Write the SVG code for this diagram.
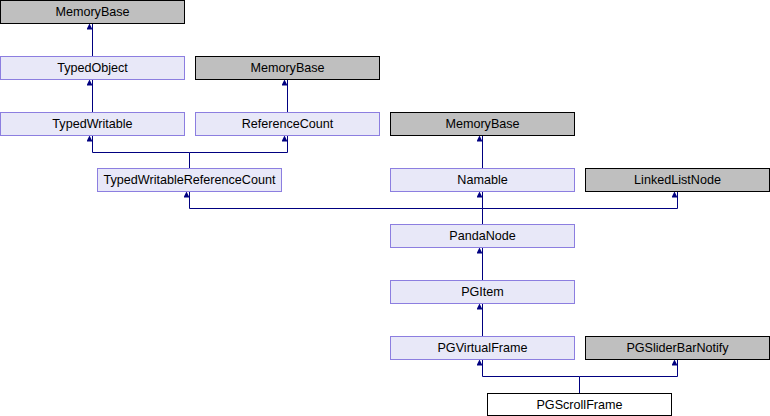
<svg xmlns="http://www.w3.org/2000/svg" width="770" height="416" viewBox="0 0 770 416">
<style>
.n rect{fill:#e8e8f8;stroke:#8c7ee0;stroke-width:1}
.g rect{fill:#bfbfbf;stroke:#000;stroke-width:1}
.w rect{fill:#fff;stroke:#000;stroke-width:1}
text{font-family:"Liberation Sans",Arial,sans-serif;font-size:12.6px;text-anchor:middle;fill:#000}
#edges path{fill:none;stroke:#000080;stroke-width:1}
</style>
<defs>
<marker id="ah" markerWidth="6" markerHeight="7" refX="3" refY="0" orient="0" markerUnits="userSpaceOnUse" viewBox="-3 0 6 7">
<path d="M0,0 L3,6 L-3,6 Z" fill="#000080"/>
</marker>
</defs>
<rect width="770" height="416" fill="#fff"/>
<g id="edges">
<path d="M92.5,56 V23.5" marker-end="url(#ah)"/>
<path d="M92.5,112 V79.5" marker-end="url(#ah)"/>
<path d="M287.5,112 V79.5" marker-end="url(#ah)"/>
<path d="M189.5,168 V152.5 H92.5 V135.5" marker-end="url(#ah)"/>
<path d="M189.5,152.5 H287.5 V135.5" marker-end="url(#ah)"/>
<path d="M482.5,168 V135.5" marker-end="url(#ah)"/>
<path d="M482.5,224 V208.5 H189.5 V191.5" marker-end="url(#ah)"/>
<path d="M482.5,208.5 V191.5" marker-end="url(#ah)"/>
<path d="M482.5,208.5 H677.5 V191.5" marker-end="url(#ah)"/>
<path d="M482.5,280 V247.5" marker-end="url(#ah)"/>
<path d="M482.5,336 V303.5" marker-end="url(#ah)"/>
<path d="M579.5,393 V376.5 H482.5 V359.5" marker-end="url(#ah)"/>
<path d="M579.5,376.5 H677.5 V359.5" marker-end="url(#ah)"/>
</g>
<g id="MemoryBase1" class="g"><rect x="0.5" y="0.5" width="184" height="23"/><text x="92.5" y="16">MemoryBase</text></g>
<g id="TypedObject" class="n"><rect x="0.5" y="56.5" width="184" height="23"/><text x="92.5" y="72">TypedObject</text></g>
<g id="MemoryBase2" class="g"><rect x="195.5" y="56.5" width="184" height="23"/><text x="287.5" y="72">MemoryBase</text></g>
<g id="TypedWritable" class="n"><rect x="0.5" y="112.5" width="184" height="23"/><text x="92.5" y="128">TypedWritable</text></g>
<g id="ReferenceCount" class="n"><rect x="195.5" y="112.5" width="184" height="23"/><text x="287.5" y="128">ReferenceCount</text></g>
<g id="MemoryBase3" class="g"><rect x="390.5" y="112.5" width="184" height="23"/><text x="482.5" y="128">MemoryBase</text></g>
<g id="TypedWritableReferenceCount" class="n"><rect x="97.5" y="168.5" width="184" height="23"/><text x="189.5" y="184">TypedWritableReferenceCount</text></g>
<g id="Namable" class="n"><rect x="390.5" y="168.5" width="184" height="23"/><text x="482.5" y="184">Namable</text></g>
<g id="LinkedListNode" class="g"><rect x="585.5" y="168.5" width="184" height="23"/><text x="677.5" y="184">LinkedListNode</text></g>
<g id="PandaNode" class="n"><rect x="390.5" y="224.5" width="184" height="23"/><text x="482.5" y="240">PandaNode</text></g>
<g id="PGItem" class="n"><rect x="390.5" y="280.5" width="184" height="23"/><text x="482.5" y="296">PGItem</text></g>
<g id="PGVirtualFrame" class="n"><rect x="390.5" y="336.5" width="184" height="23"/><text x="482.5" y="352">PGVirtualFrame</text></g>
<g id="PGSliderBarNotify" class="g"><rect x="585.5" y="336.5" width="184" height="23"/><text x="677.5" y="352">PGSliderBarNotify</text></g>
<g id="PGScrollFrame" class="w"><rect x="487.5" y="393.5" width="184" height="22"/><text x="579.5" y="409">PGScrollFrame</text></g>
</svg>
